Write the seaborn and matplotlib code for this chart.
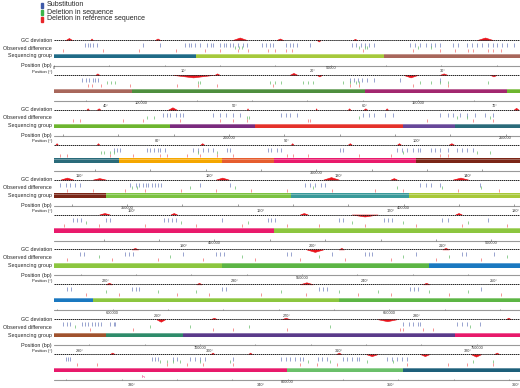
import numpy as np
import matplotlib
matplotlib.use("Agg")
import matplotlib.pyplot as plt
import seaborn as sns
import pandas as pd

# ==========================
# Data (positions in degrees, 0-360 around the genome)
# ==========================

GENOME_BP = 842000
ROW_DEG = 36
N_ROWS = 10

group_starts = [0, 11, 25.5, 42, 60, 71, 81, 87.5, 99, 103, 113, 121, 125, 136,
                148, 162.3, 171.4, 180, 197, 229, 245, 255, 274, 288, 292, 298, 319,
                342, 351]
group_ends = group_starts[1:] + [360]
group_colors = ["#1f6b87", "#a6c93c", "#a8675b", "#4e8e3e", "#a2276f", "#6db52f",
                "#7a2b7e", "#e5312b", "#674799", "#2a6b7a", "#f5a700", "#e65d2f",
                "#e91a6c", "#7b2617", "#7cc242", "#3a9a9a", "#a8c83a", "#e91a6c",
                "#8cc63f", "#5cb544", "#1a78c0", "#8cc63f", "#5cb544", "#a0522d",
                "#2e8b6a", "#5a3a8a", "#e8196b", "#6abf6a", "#1d5f7a"]

substitution = [
    2.4, 2.6, 2.8, 3.0, 3.3, 6.9, 8.2, 10.1, 10.4, 10.6, 10.9, 11.3, 11.8, 12.1, 12.3,
    12.8, 13.1, 13.3, 13.6, 13.8, 14.2, 14.6, 14.9, 16.1, 16.4, 16.7, 16.9, 17.9, 18.2,
    18.5, 18.8, 19.8, 23.0, 23.3, 23.7, 24.0, 24.3, 24.7, 27.5, 27.9, 28.3, 28.7, 29.1,
    29.4, 29.8, 30.8, 31.2, 31.9, 32.3, 32.7, 33.1, 33.5, 33.9, 34.2, 34.6, 35.0, 35.5,
    38.2, 38.5, 38.7, 39.0, 39.2, 39.4, 58.9, 59.2, 59.5, 59.8, 60.2, 60.7, 62.7, 65.8,
    80.4, 80.7, 81.0, 81.4, 81.7, 82.0, 84.3, 84.8, 85.3, 85.8, 86.4, 89.5, 89.9, 90.2,
    90.8, 95.9, 96.3, 96.7, 97.6, 98.2, 101.8, 102.4, 102.8, 103.4, 103.9, 104.5, 105.3,
    105.9,
    112.6, 112.9, 113.1, 115.2, 115.4, 115.7, 116.0, 116.2, 116.6, 118.7, 119.1, 119.5,
    119.9, 120.3, 121.4, 121.6, 124.5, 124.8, 125.2, 125.5, 130.1, 130.3, 134.5, 134.9,
    135.3, 135.7, 136.1, 136.3, 137.1, 137.4, 137.8, 138.4, 139.1, 139.5, 139.9, 140.4,
    144.5, 144.9, 145.2, 145.6, 146.0, 149.9, 150.3, 150.6, 150.9, 151.1, 151.3, 151.6,
    151.8, 152.0, 152.3, 155.3, 157.6, 163.4, 163.8, 164.2, 164.6, 164.9, 172.3, 172.7,
    173.1, 173.8, 176.9,
    181.5, 181.8, 182.1, 184.0, 184.3, 188.5, 188.8, 189.1, 189.4, 193.0, 196.5, 196.8,
    197.1, 202.0, 202.3, 205.5, 205.8, 206.1, 210.0, 210.4, 213.5,
    218.0, 218.3, 221.5, 221.8, 222.1, 226.0, 228.5, 228.8, 229.1, 234.0, 234.3, 237.5,
    240.0, 240.3, 240.6, 244.0, 247.5, 247.8, 250.0,
    253.0, 253.3, 258.0, 258.3, 258.6, 265.0, 265.3, 272.5, 272.8, 273.1, 279.5, 279.8,
    280.1, 285.0,
    288.7, 289.0, 289.2, 290.2, 290.4, 290.6, 290.9, 291.2, 291.4, 291.6, 292.3, 292.6,
    292.7, 315.0, 315.4, 315.7, 316.1, 316.3, 319.1, 319.5, 319.9, 320.9,
    324.9, 325.1, 325.2, 331.6, 331.8, 332.0, 333.2, 333.5, 334.5, 334.9, 335.3, 335.7,
    337.8, 341.5, 341.9, 342.2, 342.6, 343.0, 343.2, 344.4, 344.7, 345.1, 346.3, 346.6,
    347.0, 347.4, 347.6, 349.7, 350.1, 350.5, 350.9, 351.3,
]

deletion_in_seq = [
    14.0, 14.3, 14.5, 23.6, 24.0, 24.2, 28.1, 29.1,
    40.1, 40.4, 40.7, 47.1, 47.3, 52.7, 53.1, 53.5, 55.2, 55.6, 56.0, 58.3, 58.9, 59.3,
    59.6, 64.3, 65.1, 65.8, 66.4, 69.5,
    79.2, 79.7, 86.9, 87.1, 95.6, 103.1, 103.9, 105.7,
    111.6, 111.9, 112.3, 112.6, 119.1, 120.6, 135.0, 140.7, 141.7,
    150.0, 150.4, 154.5, 158.0, 164.0, 170.5, 174.0, 177.0,
    182.5, 189.8, 195.0, 203.0, 207.0, 212.0,
    219.5, 225.0, 230.5, 236.5, 243.0, 246.5, 251.0,
    256.0, 260.0, 263.0, 269.5, 274.0, 277.0, 281.0, 284.0,
    289.6, 295.4, 298.5, 303.1, 309.3, 320.1,
    332.2, 332.7, 333.2, 333.7, 335.3, 337.6, 343.6, 345.3, 348.2, 350.2, 356.4, 357.9,
]

deletion_in_ref = [
    0.7, 3.8, 6.6, 9.4, 11.7, 12.8, 14.2, 15.0, 16.5, 17.1, 17.9, 18.4, 23.9, 27.7,
    29.8, 31.0, 32.0, 32.4, 33.5, 33.9, 34.5,
    38.6, 38.9, 39.6, 41.9, 45.5, 47.1, 48.6, 52.9, 58.9, 59.6, 63.7, 66.4,
    73.5, 74.0, 77.3, 78.9, 81.7, 84.8, 85.8, 86.9, 91.6, 91.8, 100.8, 104.4, 105.9,
    108.5, 109.0, 112.3, 114.1, 116.2, 116.7, 118.3, 119.3, 120.6, 121.8, 126.0, 126.5,
    127.6, 131.6, 134.0, 137.8, 138.4,
    145.0, 147.0, 149.5, 151.0, 153.8, 156.5, 159.2, 162.0, 165.5, 168.8, 171.0, 175.2,
    178.4,
    180.8, 183.5, 187.0, 191.0, 194.5, 198.0, 200.5, 204.0, 208.0, 211.5, 215.0,
    217.0, 220.5, 224.0, 227.5, 231.5, 235.0, 238.5, 242.0, 245.5, 249.0,
    254.5, 257.0, 261.5, 264.0, 268.0, 271.5, 275.5, 278.0, 282.5, 286.5,
    290.8, 294.1, 300.3, 301.8, 306.0, 314.7, 315.0, 316.5, 317.3,
    325.8, 327.3, 332.7, 334.3, 335.5, 337.8, 343.0, 344.3, 345.9, 351.3, 354.4, 355.9,
    357.9,
]

# GC deviation peaks: start, end, height (px above/below the baseline)
gc_start = [0.9, 2.8, 7.8, 13.8, 17.2, 20.3, 23.1, 32.7,
            39.2, 45.2, 48.4, 54.2, 56.3, 63.0, 65.8, 69.7,
            74.5, 75.3, 80.8, 86.9, 92.2, 94.7, 95.9, 97.6, 107.5,
            108.1, 111.3, 119.3, 126.3, 130.7, 134.5, 138.5,
            144.5, 147.0, 156.5, 164.8, 170.0, 174.8,
            183.5, 189.0, 199.0, 203.0, 211.0,
            222.0, 235.5, 238.0, 246.0,
            256.0, 263.0, 271.0, 280.5,
            295.9, 300.1, 305.6, 313.0, 322.9,
            328.3, 336.1, 339.0, 345.8, 348.1, 352.3, 356.2, 358.0]
gc_end = [1.4, 3.0, 8.2, 14.9, 17.7, 20.6, 23.4, 33.9,
          39.5, 48.3, 48.8, 54.8, 56.7, 64.1, 66.4, 70.2,
          74.7, 75.6, 81.5, 87.0, 92.3, 94.9, 96.2, 97.8, 107.9,
          108.3, 111.5, 119.6, 126.5, 131.0, 134.8, 138.9,
          145.5, 148.0, 157.5, 166.0, 170.5, 176.0,
          184.3, 189.5, 199.6, 205.0, 211.5,
          222.5, 236.8, 238.4, 246.5,
          256.5, 263.4, 272.0, 281.0,
          296.6, 300.6, 306.2, 314.5, 323.3,
          328.7, 336.4, 339.3, 346.2, 349.0, 353.0, 357.0, 358.4]
gc_height = [2, 1.5, 1.5, 2.5, 1.5, -1.5, 1.2, 2.5,
             1.5, -2.5, 1.5, 2, -1.5, -2.5, 1.5, -1.5,
             1.5, 1.5, 2.5, 1.5, 1.5, 1.5, 1.5, 1.5, 2,
             1.5, 1.5, 1.5, 1.5, 1.5, 1.5, 1.5,
             2, 1.5, 2, 2.5, 1.5, 2,
             1.5, 1.5, 1.5, -2, 1.5,
             1.5, -2.5, 1.5, 1.5,
             1.5, 1.5, 2, 1.5,
             -2.5, 1.5, 1.5, -2, 1.5,
             1.5, 1.5, 1.5, 1.5, -2, -2, -2.5, 1.5]

legend_labels = ["Substitution", "Deletion in sequence", "Deletion in reference sequence"]
legend_colors = ["#3f5aa8", "#3cb44a", "#e8262a"]

feature_label = "rh"
feature_deg = 330.9

# ==========================
# Figure
# ==========================

sns.set_style("white")
plt.rcParams['font.family'] = ['Liberation Sans', 'DejaVu Sans']

W, H = 520, 388
fig = plt.figure(figsize=(W / 100, H / 100), dpi=100)

peaks = pd.DataFrame({"start": gc_start, "end": gc_end, "height": gc_height})
bp_ticks = np.arange(0, GENOME_BP + 1, 10000)
deg_per_bp = 360 / GENOME_BP

for r in range(N_ROWS):
    b = 56 + 34.9 * r
    ax = fig.add_axes([54 / W, 1 - (b + 15) / H, 466 / W, 35 / H])
    lo, hi = r * ROW_DEG, (r + 1) * ROW_DEG
    ax.set_xlim(lo, hi)
    ax.set_ylim(-15, 20)
    ax.axis("off")

    # GC deviation
    sns.lineplot(x=[lo, hi], y=[16, 16], ax=ax, color="#222222", lw=0.7,
                 legend=False)
    ax.lines[-1].set_dashes((1.5, 0.6))
    for _, p in peaks.iterrows():
        ax.fill_between([p.start, (p.start + p.end) / 2, p.end], 16,
                        [16, 16 + p.height, 16], color="#e8141c", lw=0.4,
                        edgecolor="#e8141c")

    # observed differences
    ax.vlines(substitution, 9, 13, colors="#5567b0", lw=0.5, alpha=0.85)
    ax.vlines(deletion_in_seq, 7, 10, colors="#4cb050", lw=0.5, alpha=0.85)
    ax.vlines(deletion_in_ref, 4, 7, colors="#f05050", lw=0.5, alpha=0.85)

    # sequencing groups
    for s, e, c in zip(group_starts, group_ends, group_colors):
        ax.barh(0, e - s, left=s, height=4.4, color=c, lw=0)
        ax.barh(1.6, e - s, left=s, height=1.0, color="white", alpha=0.3, lw=0)

    if lo <= feature_deg < hi:
        ax.text(feature_deg, -6.5, feature_label, fontsize=3, color="#e8196b",
                ha="center", va="center")

    # position axis
    ax.axhline(-10, color="#999999", lw=0.8)
    t = bp_ticks * deg_per_bp
    t = t[(t >= lo) & (t <= hi)]
    ax.vlines(t, -10, -8.6, colors="#777777", lw=0.5)
    for bp in bp_ticks[bp_ticks % 50000 == 0]:
        x = bp * deg_per_bp
        if lo <= x < hi:
            ax.text(x, -12.4, str(bp), fontsize=2.8, ha="center", va="center",
                    color="#333333", clip_on=False)
    for d in range(10, 361, 10):
        if lo < d <= hi:
            ax.text(d, -15.4, f"{d}°", fontsize=2.8,
                    ha="right" if d == hi else "center", va="center",
                    color="#333333", clip_on=False)

    if r % 2 == 0:
        for txt, dy, fs in [("GC deviation", -16, 3.85), ("Observed difference", -8, 3.85),
                            ("Sequencing group", 0, 3.85), ("Position (bp)", 10, 3.85),
                            ("Position (°)", 15.5, 3.1)]:
            fig.text(52 / W, 1 - (b + dy) / H, txt, fontsize=fs, ha="right",
                     va="center")

# legend
for i, (lab, col) in enumerate(zip(legend_labels, legend_colors)):
    y = 5 + 7 * i
    fig.add_artist(plt.Rectangle((41 / W, 1 - (y + 2.5) / H), 2 / W, 5 / H,
                                 color=col, transform=fig.transFigure))
    fig.text(47 / W, 1 - y / H, lab, fontsize=5, va="center")

fig.savefig("out.png", dpi=100)
